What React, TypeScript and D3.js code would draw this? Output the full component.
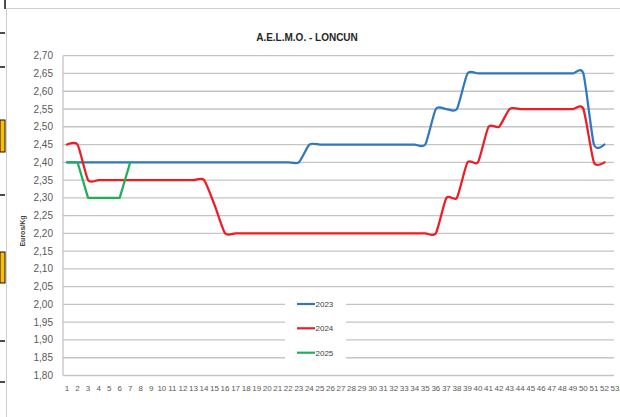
import React from "react";
import * as d3 from "d3";

const weeks: number[] = Array.from({ length: 53 }, (_, i) => i + 1);
const yTicks: number[] = [1.8, 1.85, 1.9, 1.95, 2.0, 2.05, 2.1, 2.15, 2.2, 2.25, 2.3, 2.35, 2.4, 2.45, 2.5, 2.55, 2.6, 2.65, 2.7];

const s2023: number[] = [
  2.40, 2.40, 2.40, 2.40, 2.40, 2.40, 2.40, 2.40, 2.40, 2.40,
  2.40, 2.40, 2.40, 2.40, 2.40, 2.40, 2.40, 2.40, 2.40, 2.40,
  2.40, 2.40, 2.40, 2.45, 2.45, 2.45, 2.45, 2.45, 2.45, 2.45,
  2.45, 2.45, 2.45, 2.45, 2.45, 2.55, 2.55, 2.55, 2.65, 2.65,
  2.65, 2.65, 2.65, 2.65, 2.65, 2.65, 2.65, 2.65, 2.65, 2.65,
  2.45, 2.45,
];
const s2024: number[] = [
  2.45, 2.45, 2.35, 2.35, 2.35, 2.35, 2.35, 2.35, 2.35, 2.35,
  2.35, 2.35, 2.35, 2.35, 2.28, 2.20, 2.20, 2.20, 2.20, 2.20,
  2.20, 2.20, 2.20, 2.20, 2.20, 2.20, 2.20, 2.20, 2.20, 2.20,
  2.20, 2.20, 2.20, 2.20, 2.20, 2.20, 2.30, 2.30, 2.40, 2.40,
  2.50, 2.50, 2.55, 2.55, 2.55, 2.55, 2.55, 2.55, 2.55, 2.55,
  2.40, 2.40,
];
const s2025: number[] = [2.40, 2.40, 2.30, 2.30, 2.30, 2.30, 2.40];

const seriesNames: string[] = ["2023", "2024", "2025"];
const seriesColors: string[] = ["#2f78c0", "#ee1c25", "#1fae5a"];

const FONT = "'Liberation Sans', Arial, sans-serif";

export default function App() {
  const x = d3.scaleLinear().domain([1, 53]).range([67, 615]);
  const y = d3.scaleLinear().domain([1.8, 2.7]).range([375.5, 55.7]);
  const smooth = d3
    .line<number>()
    .x((_, i) => x(i + 1))
    .y((d) => y(d))
    .curve(d3.curveCardinal.tension(0.35));
  const straight = d3
    .line<number>()
    .x((_, i) => x(i + 1))
    .y((d) => y(d));

  const series = [
    { name: seriesNames[0], data: s2023, color: seriesColors[0], gen: smooth },
    { name: seriesNames[1], data: s2024, color: seriesColors[1], gen: smooth },
    { name: seriesNames[2], data: s2025, color: seriesColors[2], gen: straight },
  ];

  const plotLeft = 63;
  const plotRight = 614;
  const fmt = (v: number) => v.toFixed(2).replace(".", ",");

  const leftTicksBlack = [33, 67, 195, 341, 382];
  const yellowBlocks = [
    [120, 152],
    [252, 283],
  ];

  return (
    <svg
      width={620}
      height={417}
      style={{ position: "absolute", left: 0, top: 0, background: "#fff" }}
      fontFamily={FONT}
    >
      <rect x={0} y={0} width={620} height={417} fill="#ffffff" />
      {/* spreadsheet artifacts at left */}
      <line x1={5} y1={0} x2={5} y2={9} stroke="#111" strokeWidth={1.5} />
      {yellowBlocks.map((b, i) => (
        <rect key={"yb" + i} x={0} y={b[0]} width={5} height={b[1] - b[0]} fill="#ffc000" stroke="#111" strokeWidth={1} />
      ))}
      {leftTicksBlack.map((t, i) => (
        <line key={"bt" + i} x1={0} y1={t} x2={5} y2={t} stroke="#111" strokeWidth={1.5} />
      ))}
      {/* chart area border */}
      <line x1={6.5} y1={8.5} x2={620} y2={8.5} stroke="#cfcfcf" strokeWidth={1} />
      <line x1={6.5} y1={8.5} x2={6.5} y2={417} stroke="#cfcfcf" strokeWidth={1} />

      {/* title */}
      <text x={307} y={41} textAnchor="middle" fontSize={10} fontWeight="bold" fill="#262626">
        A.E.L.M.O. - LONCUN
      </text>

      {/* gridlines */}
      {yTicks.map((t) => (
        <line
          key={"g" + t}
          x1={plotLeft}
          x2={plotRight}
          y1={y(t)}
          y2={y(t)}
          stroke="#c4c4c4"
          strokeWidth={1.3}
        />
      ))}
      <line x1={plotLeft} x2={plotLeft} y1={y(2.7)} y2={y(1.8)} stroke="#c4c4c4" strokeWidth={1.3} />

      {/* y tick labels */}
      {yTicks.map((t) => (
        <text key={"yl" + t} x={53} y={y(t) + 3.5} textAnchor="end" fontSize={10} fill="#595959">
          {fmt(t)}
        </text>
      ))}
      <text
        transform={`translate(25,231) rotate(-90)`}
        textAnchor="middle"
        fontSize={7}
        fontWeight="bold"
        fill="#404040"
      >
        Euros/Kg
      </text>

      {/* x tick labels */}
      {weeks.map((w) => (
        <text key={"xl" + w} x={x(w)} y={391} textAnchor="middle" fontSize={8} fill="#595959">
          {w}
        </text>
      ))}

      {/* legend */}
      <rect x={285} y={293} width={61} height={70} fill="#ffffff" />
      {series.map((s, i) => {
        const ly = [304, 328.3, 352.7][i];
        return (
          <g key={"lg" + s.name}>
            <line x1={297} x2={315} y1={ly} y2={ly} stroke={s.color} strokeWidth={2.2} />
            <text x={315.5} y={ly + 3} fontSize={8} fill="#404040">
              {s.name}
            </text>
          </g>
        );
      })}

      {/* series */}
      {series.map((s) => (
        <path
          key={"s" + s.name}
          d={s.gen(s.data) || ""}
          fill="none"
          stroke={s.color}
          strokeWidth={2.25}
          strokeLinejoin="round"
          strokeLinecap="round"
        />
      ))}
    </svg>
  );
}
